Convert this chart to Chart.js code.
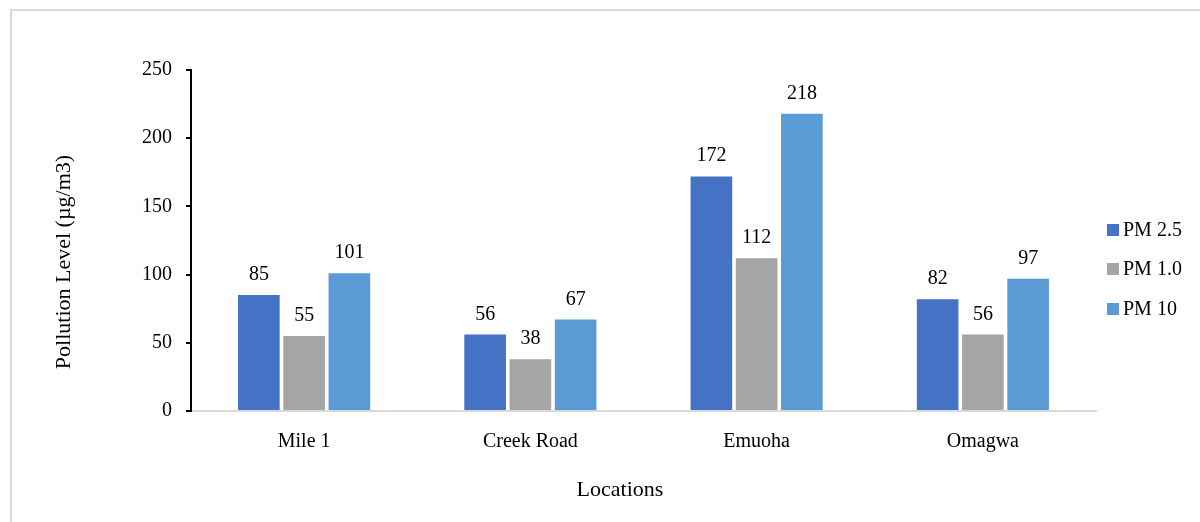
<!DOCTYPE html>
<html>
<head>
<meta charset="utf-8">
<script src="https://cdn.jsdelivr.net/npm/chart.js@4.4.1/dist/chart.umd.min.js"></script>
<style>
  html, body { margin: 0; padding: 0; background: #fff; }
  #wrap { position: relative; width: 1200px; height: 522px; overflow: hidden; }
  #frame { position: absolute; left: 10px; top: 9px; width: 1210px; height: 540px;
           border: 2px solid #d9d9d9; box-sizing: border-box; pointer-events: none; }
  canvas { position: absolute; left: 0; top: 0; }
</style>
</head>
<body>
<div id="wrap">
  <canvas id="c" width="1200" height="522"></canvas>
  <div id="frame"></div>
</div>
<script>
const locations = ['Mile 1', 'Creek Road', 'Emuoha', 'Omagwa'];
const seriesNames = ['PM 2.5', 'PM 1.0', 'PM 10'];
const pm25 = [85, 56, 172, 82];
const pm1 = [55, 38, 112, 56];
const pm10 = [101, 67, 218, 97];
const seriesColors = ['#4472C4', '#A5A5A5', '#5B9BD5'];
const yTicks = [0, 50, 100, 150, 200, 250];

const FONT = '"Liberation Serif", "Times New Roman", serif';

// value labels above each bar
const barLabels = {
  id: 'barLabels',
  afterDatasetsDraw(chart) {
    const ctx = chart.ctx;
    ctx.save();
    ctx.font = '20px ' + FONT;
    ctx.fillStyle = '#000';
    ctx.textAlign = 'center';
    ctx.textBaseline = 'alphabetic';
    chart.data.datasets.forEach((ds, i) => {
      chart.getDatasetMeta(i).data.forEach((bar, j) => {
        ctx.fillText(String(ds.data[j]), bar.x, bar.y - 15);
      });
    });
    ctx.restore();
  }
};

// axis titles and legend
const decorations = {
  id: 'decorations',
  afterDraw(chart) {
    const ctx = chart.ctx;
    const area = chart.chartArea;
    ctx.save();
    ctx.fillStyle = '#000';
    ctx.font = '22px ' + FONT;
    ctx.textAlign = 'center';
    ctx.textBaseline = 'middle';
    ctx.fillText('Locations', 620, 490);
    ctx.save();
    ctx.translate(64, 262);
    ctx.rotate(-Math.PI / 2);
    ctx.fillText('Pollution Level (µg/m3)', 0, 0);
    ctx.restore();

    ctx.font = '20px ' + FONT;
    ctx.textAlign = 'left';
    const legendY = [230, 269, 309];
    chart.data.datasets.forEach((ds, i) => {
      const y = legendY[i];
      ctx.fillStyle = ds.backgroundColor;
      ctx.fillRect(area.right + 11, y - 6, 12, 12);
      ctx.fillStyle = '#000';
      ctx.fillText(ds.label, area.right + 27, y + 1);
    });
    ctx.restore();
  }
};

const allSeries = [pm25, pm1, pm10];

new Chart(document.getElementById('c'), {
  type: 'bar',
  data: {
    labels: locations,
    datasets: allSeries.map((vals, i) => ({
      label: seriesNames[i],
      data: vals,
      backgroundColor: seriesColors[i],
      borderWidth: 0,
      categoryPercentage: 0.6,
      barPercentage: 0.92
    }))
  },
  options: {
    responsive: false,
    animation: false,
    devicePixelRatio: 1,
    layout: { padding: { top: 70, right: 104, left: 0, bottom: 0 } },
    plugins: {
      legend: { display: false },
      tooltip: { enabled: false }
    },
    scales: {
      x: {
        afterFit(scale) { scale.height = 111; },
        grid: { display: true, drawOnChartArea: false, drawTicks: false },
        border: { display: true, color: '#d9d9d9', width: 2 },
        ticks: { color: '#000', font: { family: FONT, size: 20 }, padding: 19 }
      },
      y: {
        min: 0,
        max: 250,
        afterFit(scale) { scale.width = 191; },
        afterBuildTicks(scale) { scale.ticks = yTicks.map(v => ({ value: v })); },
        grid: { display: true, drawOnChartArea: false, drawTicks: true, tickLength: 5, color: '#000', lineWidth: 2 },
        border: { display: true, color: '#000', width: 2 },
        ticks: { color: '#000', font: { family: FONT, size: 20 }, padding: 14 }
      }
    }
  },
  plugins: [barLabels, decorations]
});
</script>
</body>
</html>
